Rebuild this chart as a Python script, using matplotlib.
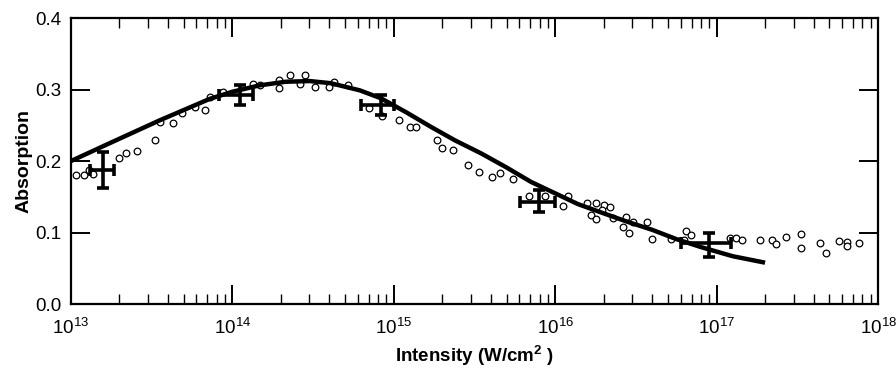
import numpy as np
import matplotlib
matplotlib.use("Agg")
import matplotlib.pyplot as plt
from matplotlib.ticker import LogLocator, FixedLocator, FormatStrFormatter, NullFormatter

plt.rcParams["font.family"] = ["Liberation Sans", "DejaVu Sans"]
plt.rcParams["mathtext.default"] = "regular"

# measured absorption (open circles), log10 of intensity
data_logI = [13.03, 13.08, 13.11, 13.14, 13.30, 13.34, 13.41, 13.52, 13.55, 13.63,
             13.69, 13.77, 13.83, 13.86, 13.94, 14.13, 14.17, 14.29, 14.29, 14.36,
             14.42, 14.45, 14.51, 14.60, 14.63, 14.72, 14.85, 14.93, 15.03, 15.10,
             15.14, 15.27, 15.30, 15.37, 15.46, 15.53, 15.61, 15.66, 15.74, 15.84,
             15.94, 16.05, 16.08, 16.20, 16.25, 16.22, 16.25, 16.30, 16.34, 16.29,
             16.36, 16.44, 16.48, 16.42, 16.46, 16.57, 16.60, 16.72, 16.81, 16.84,
             16.80, 17.08, 17.12, 17.16, 17.27, 17.34, 17.37, 17.43, 17.52, 17.52,
             17.64, 17.68, 17.76, 17.81, 17.81, 17.88]
data_abs = [0.180, 0.181, 0.187, 0.182, 0.205, 0.211, 0.214, 0.229, 0.255, 0.253,
            0.268, 0.276, 0.272, 0.290, 0.296, 0.308, 0.306, 0.314, 0.302, 0.320,
            0.308, 0.321, 0.304, 0.304, 0.310, 0.307, 0.275, 0.263, 0.257, 0.248,
            0.248, 0.229, 0.218, 0.215, 0.195, 0.185, 0.178, 0.183, 0.175, 0.151,
            0.151, 0.137, 0.151, 0.141, 0.141, 0.124, 0.119, 0.138, 0.136, 0.131,
            0.121, 0.122, 0.115, 0.108, 0.100, 0.115, 0.091, 0.091, 0.102, 0.097,
            0.090, 0.092, 0.093, 0.090, 0.090, 0.090, 0.084, 0.094, 0.098, 0.079,
            0.085, 0.071, 0.088, 0.087, 0.081, 0.086]

# points with error bars
err_logI = [13.20, 14.05, 14.92, 15.90, 16.95]
err_abs = [0.187, 0.292, 0.278, 0.143, 0.085]
err_lo = [0.024, 0.014, 0.014, 0.014, 0.019]
err_hi = [0.026, 0.015, 0.014, 0.016, 0.015]
err_xlo = [13.12, 13.92, 14.80, 15.78, 16.78]
err_xhi = [13.27, 14.13, 15.00, 16.00, 17.09]

# model curve
model_logI = [13.00, 13.24, 13.55, 13.86, 14.00, 14.17, 14.33, 14.48, 14.61, 14.79,
              14.92, 15.08, 15.23, 15.38, 15.54, 15.70, 15.85, 16.00, 16.14, 16.30,
              16.45, 16.60, 16.75, 16.90, 17.10, 17.30]
model_abs = [0.200, 0.225, 0.257, 0.287, 0.297, 0.306, 0.311, 0.312, 0.309, 0.299,
             0.288, 0.268, 0.248, 0.229, 0.211, 0.191, 0.171, 0.155, 0.140, 0.127,
             0.115, 0.104, 0.091, 0.080, 0.067, 0.058]

x = 10.0 ** np.array(data_logI)
ex = 10.0 ** np.array(err_logI)
xerr = [ex - 10.0 ** np.array(err_xlo), 10.0 ** np.array(err_xhi) - ex]

fig = plt.figure(figsize=(8.96, 3.70), dpi=100)
ax = fig.add_axes([0.079, 0.178, 0.901, 0.773])

ax.plot(10.0 ** np.array(model_logI), model_abs, color="black", lw=3.2,
        solid_capstyle="butt", solid_joinstyle="round", zorder=3)
ax.plot(x, data_abs, "o", mfc="white", mec="black", ms=4.8, mew=0.9, zorder=2)
ax.errorbar(ex, err_abs, yerr=[err_lo, err_hi], xerr=xerr, fmt="none",
            ecolor="black", elinewidth=2.6, capsize=4, capthick=2.6, zorder=4)

ax.set_xscale("log")
ax.set_xlim(1e13, 1e18)
ax.set_ylim(0, 0.4)
ax.yaxis.set_major_locator(FixedLocator([0.0, 0.1, 0.2, 0.3, 0.4]))
ax.yaxis.set_major_formatter(FormatStrFormatter("%.1f"))
ax.xaxis.set_major_locator(LogLocator(base=10, numticks=10))
ax.xaxis.set_minor_locator(LogLocator(base=10, subs=np.arange(2, 10), numticks=10))
ax.xaxis.set_minor_formatter(NullFormatter())

ax.tick_params(which="major", direction="in", length=14, width=1.4,
               top=True, right=True, labelsize=13.5)
ax.tick_params(axis="x", which="major", pad=10)
ax.tick_params(axis="y", which="major", pad=7)
ax.tick_params(which="minor", direction="in", length=7, width=1.0,
               top=True, right=True)
for s in ax.spines.values():
    s.set_linewidth(1.6)

ax.set_xlabel("Intensity (W/cm$^2$ )", fontsize=13.5, fontweight="bold", labelpad=4)
ax.set_ylabel("Absorption", fontsize=14, fontweight="bold", labelpad=2)

fig.savefig("out.png", dpi=100)
